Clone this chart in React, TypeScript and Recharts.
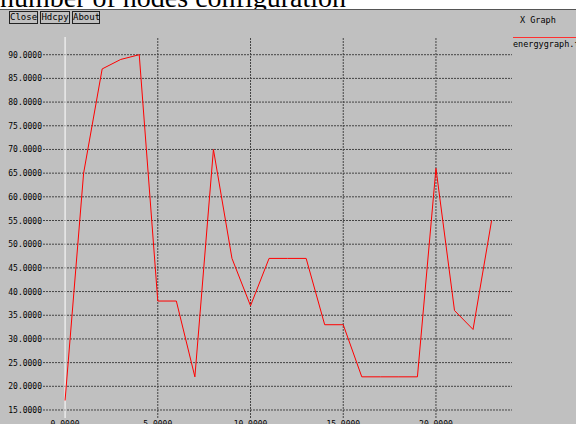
import React from 'react';
import { LineChart, Line, XAxis, YAxis, CartesianGrid, ReferenceLine } from 'recharts';

// time steps and energy readings
const steps = [0, 1, 2, 3, 4, 5, 6, 7, 8, 9, 10, 11, 12, 13, 14, 15, 16, 17, 18, 19, 20, 21, 22, 23];
const energy = [17, 65, 87, 89, 90, 38, 38, 22, 70, 47, 37, 47, 47, 47, 33, 33, 22, 22, 22, 22, 66, 36, 32, 55];
const xTicks = [0, 5, 10, 15, 20];
const yTicks = [15, 20, 25, 30, 35, 40, 45, 50, 55, 60, 65, 70, 75, 80, 85, 90];
const buttons = ['Close', 'Hdcpy', 'About'];

const data = steps.map((s, i) => ({ x: s, energy: energy[i] }));

const mono = '"DejaVu Sans Mono", monospace';

const YTick = ({ x, y, payload }) => (
  <text x={x} y={y} dy={3} textAnchor="end" fontSize={8} fontFamily={mono} fill="#000">
    {payload.value.toFixed(4)}
  </text>
);

const XTick = ({ x, y, payload }) => (
  <text x={x} y={y} dy={9} textAnchor="middle" fontSize={8} fontFamily={mono} fill="#000">
    {payload.value.toFixed(4)}
  </text>
);

export default function App() {
  return (
    <div style={{ position: 'absolute', left: 0, top: 0, width: 576, height: 424, overflow: 'hidden', background: '#fff' }}>
      <div
        style={{
          position: 'absolute', left: 0, top: -16, fontFamily: '"Liberation Serif", serif',
          fontSize: 28, lineHeight: '28px', whiteSpace: 'nowrap', color: '#000',
        }}
      >
        number of nodes configuration
      </div>
      <div style={{ position: 'absolute', left: 0, top: 9, width: 576, height: 415, background: '#c0c0c0', borderTop: '1px solid #555' }} />
      {buttons.map((b, i) => (
        <div
          key={b}
          style={{
            position: 'absolute', left: [9, 40, 72][i], top: 11, width: [29, 30, 28][i], height: 13,
            boxSizing: 'border-box', border: '1px solid #222', fontFamily: mono, fontSize: 9,
            lineHeight: '11px', textAlign: 'center', color: '#000',
          }}
        >
          {b}
        </div>
      ))}
      <div style={{ position: 'absolute', left: 0, top: 0 }}>
        <LineChart width={576} height={440} data={data} margin={{ top: 37, right: 64, bottom: 0, left: 0 }}>
          <CartesianGrid stroke="#444" strokeDasharray="2 1" vertical={false} syncWithTicks />
          <XAxis
            dataKey="x"
            type="number"
            domain={[-1.19, 24.1]}
            ticks={xTicks}
            allowDataOverflow
            axisLine={false}
            tickLine={false}
            tickSize={0}
            tickMargin={0}
            height={22}
            tick={<XTick />}
          />
          <YAxis
            type="number"
            domain={[13.31, 93.74]}
            ticks={yTicks}
            allowDataOverflow
            axisLine={false}
            tickLine={false}
            tickSize={0}
            tickMargin={1}
            width={43}
            tick={<YTick />}
          />
          {xTicks.filter((t) => t !== 0).map((t) => (
            <ReferenceLine key={t} x={t} stroke="#444" strokeDasharray="2 1" />
          ))}
          <ReferenceLine x={0} stroke="#ffffff" strokeWidth={1} />
          <Line
            type="linear"
            dataKey="energy"
            stroke="#ff0000"
            strokeWidth={1}
            dot={false}
            isAnimationActive={false}
          />
        </LineChart>
      </div>
      <div style={{ position: 'absolute', left: 520, top: 15, fontFamily: mono, fontSize: 8.5, color: '#000' }}>X Graph</div>
      <div style={{ position: 'absolute', left: 513, top: 37, width: 63, height: 1, background: '#ff3030' }} />
      <div style={{ position: 'absolute', left: 513, top: 39, fontFamily: mono, fontSize: 8.5, color: '#000', whiteSpace: 'nowrap' }}>
        energygraph.tr
      </div>
    </div>
  );
}
